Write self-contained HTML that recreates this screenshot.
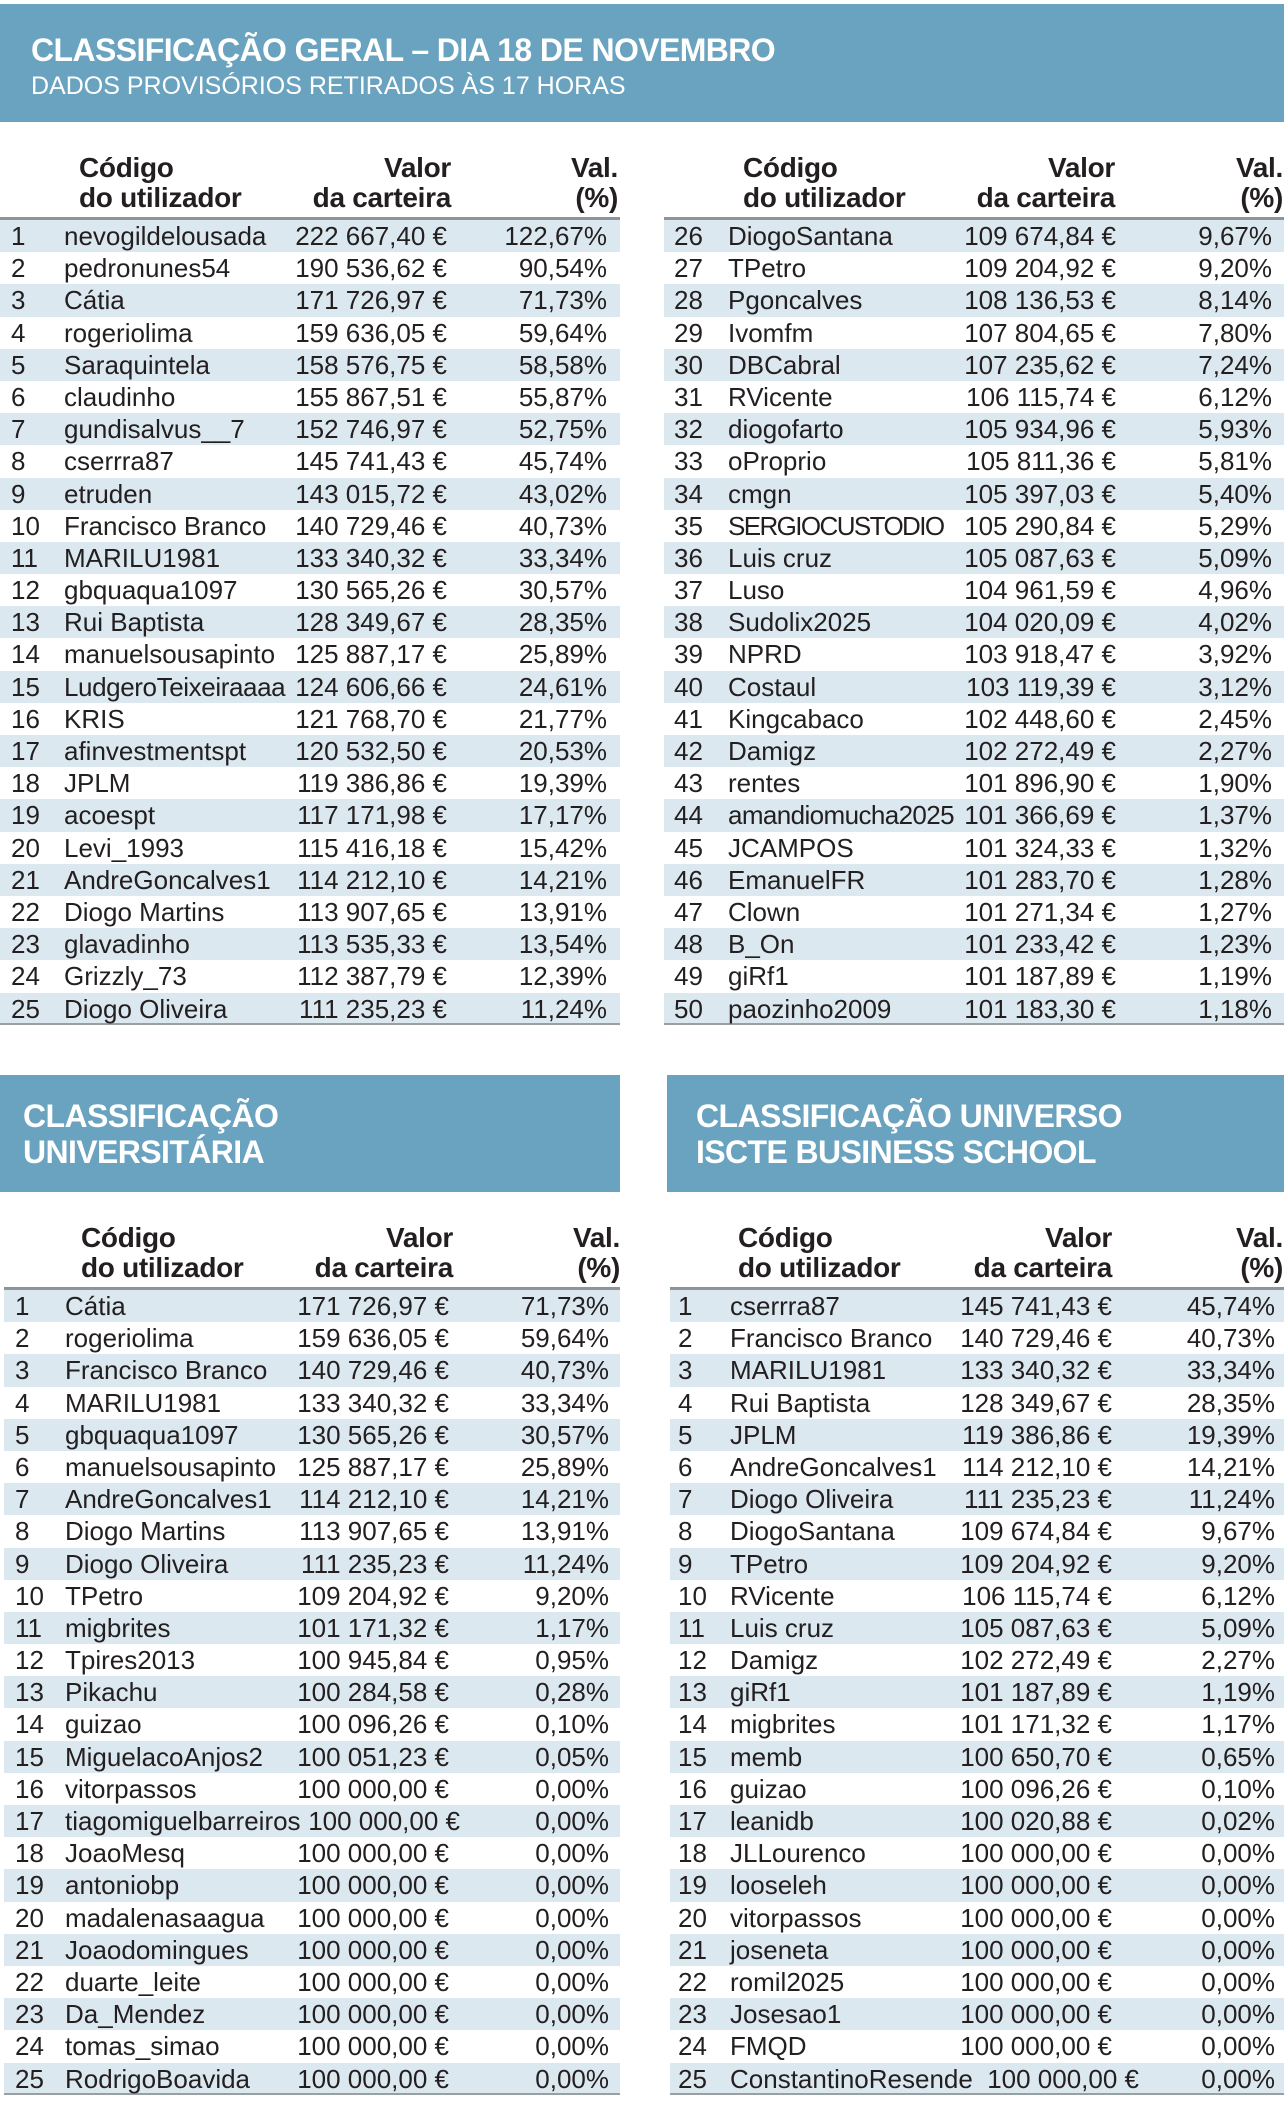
<!DOCTYPE html>
<html><head><meta charset="utf-8">
<style>
*{margin:0;padding:0;box-sizing:border-box}
body{width:1284px;height:2126px;background:#fff;position:relative;overflow:hidden;font-family:"Liberation Sans Narrow","Liberation Sans",sans-serif;color:#231f20}
.band{position:absolute;background:#6aa3bf;color:#fff}
.t{position:absolute;font-weight:bold;font-size:32px;line-height:36px;white-space:nowrap;letter-spacing:-0.6px}
.s{position:absolute;font-size:25px;white-space:nowrap}
.tb{position:absolute}
.hd{position:relative;height:70px;font-weight:bold;font-size:28px;line-height:30px;border-bottom:3px solid #8e9497}
.hd span{position:absolute;top:3px;white-space:nowrap;letter-spacing:-0.3px}
.r{position:relative;height:32.2px;font-size:26px;line-height:32px;white-space:nowrap}
.r:nth-child(even){background:#dce8f0}
.r span{position:absolute;top:0}
.tb .last{border-bottom:2px solid #9a9fa2}
.sq{letter-spacing:-1.6px}
</style></head><body>

<div class="band" style="left:0;top:4px;width:1284px;height:118px">
<div class="t" style="left:31px;top:28px">CLASSIFICAÇÃO GERAL – DIA 18 DE NOVEMBRO</div>
<div class="s" style="left:31px;top:68px">DADOS PROVISÓRIOS RETIRADOS ÀS 17 HORAS</div>
</div>

<style>
#A .n{left:11px}#A .u{left:64px}#A .v{right:173px}#A .p{right:13px}
#B .n{left:10px}#B .u{left:64px}#B .v{right:168px}#B .p{right:12px}
#C .n{left:11px}#C .u{left:61px}#C .v{right:171px}#C .p{right:11px}
#D .n{left:8px}#D .u{left:60px}#D .v{right:172px}#D .p{right:9px}
</style>

<div class="tb" id="A" style="left:0;top:150px;width:620px">
<div class="hd"><span style="left:79px">Código<br>do utilizador</span><span style="right:169px;text-align:right">Valor<br>da carteira</span><span style="right:2px;text-align:right">Val.<br>(%)</span></div>
<div class="r"><span class="n">1</span><span class="u">nevogildelousada</span><span class="v">222 667,40 €</span><span class="p">122,67%</span></div>
<div class="r"><span class="n">2</span><span class="u">pedronunes54</span><span class="v">190 536,62 €</span><span class="p">90,54%</span></div>
<div class="r"><span class="n">3</span><span class="u">Cátia</span><span class="v">171 726,97 €</span><span class="p">71,73%</span></div>
<div class="r"><span class="n">4</span><span class="u">rogeriolima</span><span class="v">159 636,05 €</span><span class="p">59,64%</span></div>
<div class="r"><span class="n">5</span><span class="u">Saraquintela</span><span class="v">158 576,75 €</span><span class="p">58,58%</span></div>
<div class="r"><span class="n">6</span><span class="u">claudinho</span><span class="v">155 867,51 €</span><span class="p">55,87%</span></div>
<div class="r"><span class="n">7</span><span class="u">gundisalvus__7</span><span class="v">152 746,97 €</span><span class="p">52,75%</span></div>
<div class="r"><span class="n">8</span><span class="u">cserrra87</span><span class="v">145 741,43 €</span><span class="p">45,74%</span></div>
<div class="r"><span class="n">9</span><span class="u">etruden</span><span class="v">143 015,72 €</span><span class="p">43,02%</span></div>
<div class="r"><span class="n">10</span><span class="u">Francisco Branco</span><span class="v">140 729,46 €</span><span class="p">40,73%</span></div>
<div class="r"><span class="n">11</span><span class="u">MARILU1981</span><span class="v">133 340,32 €</span><span class="p">33,34%</span></div>
<div class="r"><span class="n">12</span><span class="u">gbquaqua1097</span><span class="v">130 565,26 €</span><span class="p">30,57%</span></div>
<div class="r"><span class="n">13</span><span class="u">Rui Baptista</span><span class="v">128 349,67 €</span><span class="p">28,35%</span></div>
<div class="r"><span class="n">14</span><span class="u">manuelsousapinto</span><span class="v">125 887,17 €</span><span class="p">25,89%</span></div>
<div class="r"><span class="n">15</span><span class="u" style="letter-spacing:-0.4px">LudgeroTeixeiraaaa</span><span class="v">124 606,66 €</span><span class="p">24,61%</span></div>
<div class="r"><span class="n">16</span><span class="u">KRIS</span><span class="v">121 768,70 €</span><span class="p">21,77%</span></div>
<div class="r"><span class="n">17</span><span class="u">afinvestmentspt</span><span class="v">120 532,50 €</span><span class="p">20,53%</span></div>
<div class="r"><span class="n">18</span><span class="u">JPLM</span><span class="v">119 386,86 €</span><span class="p">19,39%</span></div>
<div class="r"><span class="n">19</span><span class="u">acoespt</span><span class="v">117 171,98 €</span><span class="p">17,17%</span></div>
<div class="r"><span class="n">20</span><span class="u">Levi_1993</span><span class="v">115 416,18 €</span><span class="p">15,42%</span></div>
<div class="r"><span class="n">21</span><span class="u">AndreGoncalves1</span><span class="v">114 212,10 €</span><span class="p">14,21%</span></div>
<div class="r"><span class="n">22</span><span class="u">Diogo Martins</span><span class="v">113 907,65 €</span><span class="p">13,91%</span></div>
<div class="r"><span class="n">23</span><span class="u">glavadinho</span><span class="v">113 535,33 €</span><span class="p">13,54%</span></div>
<div class="r"><span class="n">24</span><span class="u">Grizzly_73</span><span class="v">112 387,79 €</span><span class="p">12,39%</span></div>
<div class="r last"><span class="n">25</span><span class="u">Diogo Oliveira</span><span class="v">111 235,23 €</span><span class="p">11,24%</span></div>
</div>

<div class="tb" id="B" style="left:664px;top:150px;width:620px">
<div class="hd"><span style="left:79px">Código<br>do utilizador</span><span style="right:169px;text-align:right">Valor<br>da carteira</span><span style="right:1px;text-align:right">Val.<br>(%)</span></div>
<div class="r"><span class="n">26</span><span class="u">DiogoSantana</span><span class="v">109 674,84 €</span><span class="p">9,67%</span></div>
<div class="r"><span class="n">27</span><span class="u">TPetro</span><span class="v">109 204,92 €</span><span class="p">9,20%</span></div>
<div class="r"><span class="n">28</span><span class="u">Pgoncalves</span><span class="v">108 136,53 €</span><span class="p">8,14%</span></div>
<div class="r"><span class="n">29</span><span class="u">Ivomfm</span><span class="v">107 804,65 €</span><span class="p">7,80%</span></div>
<div class="r"><span class="n">30</span><span class="u">DBCabral</span><span class="v">107 235,62 €</span><span class="p">7,24%</span></div>
<div class="r"><span class="n">31</span><span class="u">RVicente</span><span class="v">106 115,74 €</span><span class="p">6,12%</span></div>
<div class="r"><span class="n">32</span><span class="u">diogofarto</span><span class="v">105 934,96 €</span><span class="p">5,93%</span></div>
<div class="r"><span class="n">33</span><span class="u">oProprio</span><span class="v">105 811,36 €</span><span class="p">5,81%</span></div>
<div class="r"><span class="n">34</span><span class="u">cmgn</span><span class="v">105 397,03 €</span><span class="p">5,40%</span></div>
<div class="r"><span class="n">35</span><span class="u sq">SERGIOCUSTODIO</span><span class="v">105 290,84 €</span><span class="p">5,29%</span></div>
<div class="r"><span class="n">36</span><span class="u">Luis cruz</span><span class="v">105 087,63 €</span><span class="p">5,09%</span></div>
<div class="r"><span class="n">37</span><span class="u">Luso</span><span class="v">104 961,59 €</span><span class="p">4,96%</span></div>
<div class="r"><span class="n">38</span><span class="u">Sudolix2025</span><span class="v">104 020,09 €</span><span class="p">4,02%</span></div>
<div class="r"><span class="n">39</span><span class="u">NPRD</span><span class="v">103 918,47 €</span><span class="p">3,92%</span></div>
<div class="r"><span class="n">40</span><span class="u">Costaul</span><span class="v">103 119,39 €</span><span class="p">3,12%</span></div>
<div class="r"><span class="n">41</span><span class="u">Kingcabaco</span><span class="v">102 448,60 €</span><span class="p">2,45%</span></div>
<div class="r"><span class="n">42</span><span class="u">Damigz</span><span class="v">102 272,49 €</span><span class="p">2,27%</span></div>
<div class="r"><span class="n">43</span><span class="u">rentes</span><span class="v">101 896,90 €</span><span class="p">1,90%</span></div>
<div class="r"><span class="n">44</span><span class="u" style="letter-spacing:-0.6px">amandiomucha2025</span><span class="v">101 366,69 €</span><span class="p">1,37%</span></div>
<div class="r"><span class="n">45</span><span class="u">JCAMPOS</span><span class="v">101 324,33 €</span><span class="p">1,32%</span></div>
<div class="r"><span class="n">46</span><span class="u">EmanuelFR</span><span class="v">101 283,70 €</span><span class="p">1,28%</span></div>
<div class="r"><span class="n">47</span><span class="u">Clown</span><span class="v">101 271,34 €</span><span class="p">1,27%</span></div>
<div class="r"><span class="n">48</span><span class="u">B_On</span><span class="v">101 233,42 €</span><span class="p">1,23%</span></div>
<div class="r"><span class="n">49</span><span class="u">giRf1</span><span class="v">101 187,89 €</span><span class="p">1,19%</span></div>
<div class="r last"><span class="n">50</span><span class="u">paozinho2009</span><span class="v">101 183,30 €</span><span class="p">1,18%</span></div>
</div>

<div class="band" style="left:0;top:1075px;width:620px;height:117px">
<div class="t" style="left:23px;top:23px">CLASSIFICAÇÃO<br>UNIVERSITÁRIA</div>
</div>
<div class="band" style="left:667px;top:1075px;width:617px;height:117px">
<div class="t" style="left:29px;top:23px">CLASSIFICAÇÃO UNIVERSO<br>ISCTE BUSINESS SCHOOL</div>
</div>

<div class="tb" id="C" style="left:4px;top:1220px;width:616px">
<div class="hd"><span style="left:77px">Código<br>do utilizador</span><span style="right:167px;text-align:right">Valor<br>da carteira</span><span style="right:0;text-align:right">Val.<br>(%)</span></div>
<div class="r"><span class="n">1</span><span class="u">Cátia</span><span class="v">171 726,97 €</span><span class="p">71,73%</span></div>
<div class="r"><span class="n">2</span><span class="u">rogeriolima</span><span class="v">159 636,05 €</span><span class="p">59,64%</span></div>
<div class="r"><span class="n">3</span><span class="u">Francisco Branco</span><span class="v">140 729,46 €</span><span class="p">40,73%</span></div>
<div class="r"><span class="n">4</span><span class="u">MARILU1981</span><span class="v">133 340,32 €</span><span class="p">33,34%</span></div>
<div class="r"><span class="n">5</span><span class="u">gbquaqua1097</span><span class="v">130 565,26 €</span><span class="p">30,57%</span></div>
<div class="r"><span class="n">6</span><span class="u">manuelsousapinto</span><span class="v">125 887,17 €</span><span class="p">25,89%</span></div>
<div class="r"><span class="n">7</span><span class="u">AndreGoncalves1</span><span class="v">114 212,10 €</span><span class="p">14,21%</span></div>
<div class="r"><span class="n">8</span><span class="u">Diogo Martins</span><span class="v">113 907,65 €</span><span class="p">13,91%</span></div>
<div class="r"><span class="n">9</span><span class="u">Diogo Oliveira</span><span class="v">111 235,23 €</span><span class="p">11,24%</span></div>
<div class="r"><span class="n">10</span><span class="u">TPetro</span><span class="v">109 204,92 €</span><span class="p">9,20%</span></div>
<div class="r"><span class="n">11</span><span class="u">migbrites</span><span class="v">101 171,32 €</span><span class="p">1,17%</span></div>
<div class="r"><span class="n">12</span><span class="u">Tpires2013</span><span class="v">100 945,84 €</span><span class="p">0,95%</span></div>
<div class="r"><span class="n">13</span><span class="u">Pikachu</span><span class="v">100 284,58 €</span><span class="p">0,28%</span></div>
<div class="r"><span class="n">14</span><span class="u">guizao</span><span class="v">100 096,26 €</span><span class="p">0,10%</span></div>
<div class="r"><span class="n">15</span><span class="u">MiguelacoAnjos2</span><span class="v">100 051,23 €</span><span class="p">0,05%</span></div>
<div class="r"><span class="n">16</span><span class="u">vitorpassos</span><span class="v">100 000,00 €</span><span class="p">0,00%</span></div>
<div class="r"><span class="n">17</span><span class="u">tiagomiguelbarreiros</span><span class="v" style="right:160px">100 000,00 €</span><span class="p">0,00%</span></div>
<div class="r"><span class="n">18</span><span class="u">JoaoMesq</span><span class="v">100 000,00 €</span><span class="p">0,00%</span></div>
<div class="r"><span class="n">19</span><span class="u">antoniobp</span><span class="v">100 000,00 €</span><span class="p">0,00%</span></div>
<div class="r"><span class="n">20</span><span class="u">madalenasaagua</span><span class="v">100 000,00 €</span><span class="p">0,00%</span></div>
<div class="r"><span class="n">21</span><span class="u">Joaodomingues</span><span class="v">100 000,00 €</span><span class="p">0,00%</span></div>
<div class="r"><span class="n">22</span><span class="u">duarte_leite</span><span class="v">100 000,00 €</span><span class="p">0,00%</span></div>
<div class="r"><span class="n">23</span><span class="u">Da_Mendez</span><span class="v">100 000,00 €</span><span class="p">0,00%</span></div>
<div class="r"><span class="n">24</span><span class="u">tomas_simao</span><span class="v">100 000,00 €</span><span class="p">0,00%</span></div>
<div class="r last"><span class="n">25</span><span class="u">RodrigoBoavida</span><span class="v">100 000,00 €</span><span class="p">0,00%</span></div>
</div>

<div class="tb" id="D" style="left:670px;top:1220px;width:614px">
<div class="hd"><span style="left:68px">Código<br>do utilizador</span><span style="right:172px;text-align:right">Valor<br>da carteira</span><span style="right:1px;text-align:right">Val.<br>(%)</span></div>
<div class="r"><span class="n">1</span><span class="u">cserrra87</span><span class="v">145 741,43 €</span><span class="p">45,74%</span></div>
<div class="r"><span class="n">2</span><span class="u">Francisco Branco</span><span class="v">140 729,46 €</span><span class="p">40,73%</span></div>
<div class="r"><span class="n">3</span><span class="u">MARILU1981</span><span class="v">133 340,32 €</span><span class="p">33,34%</span></div>
<div class="r"><span class="n">4</span><span class="u">Rui Baptista</span><span class="v">128 349,67 €</span><span class="p">28,35%</span></div>
<div class="r"><span class="n">5</span><span class="u">JPLM</span><span class="v">119 386,86 €</span><span class="p">19,39%</span></div>
<div class="r"><span class="n">6</span><span class="u">AndreGoncalves1</span><span class="v">114 212,10 €</span><span class="p">14,21%</span></div>
<div class="r"><span class="n">7</span><span class="u">Diogo Oliveira</span><span class="v">111 235,23 €</span><span class="p">11,24%</span></div>
<div class="r"><span class="n">8</span><span class="u">DiogoSantana</span><span class="v">109 674,84 €</span><span class="p">9,67%</span></div>
<div class="r"><span class="n">9</span><span class="u">TPetro</span><span class="v">109 204,92 €</span><span class="p">9,20%</span></div>
<div class="r"><span class="n">10</span><span class="u">RVicente</span><span class="v">106 115,74 €</span><span class="p">6,12%</span></div>
<div class="r"><span class="n">11</span><span class="u">Luis cruz</span><span class="v">105 087,63 €</span><span class="p">5,09%</span></div>
<div class="r"><span class="n">12</span><span class="u">Damigz</span><span class="v">102 272,49 €</span><span class="p">2,27%</span></div>
<div class="r"><span class="n">13</span><span class="u">giRf1</span><span class="v">101 187,89 €</span><span class="p">1,19%</span></div>
<div class="r"><span class="n">14</span><span class="u">migbrites</span><span class="v">101 171,32 €</span><span class="p">1,17%</span></div>
<div class="r"><span class="n">15</span><span class="u">memb</span><span class="v">100 650,70 €</span><span class="p">0,65%</span></div>
<div class="r"><span class="n">16</span><span class="u">guizao</span><span class="v">100 096,26 €</span><span class="p">0,10%</span></div>
<div class="r"><span class="n">17</span><span class="u">leanidb</span><span class="v">100 020,88 €</span><span class="p">0,02%</span></div>
<div class="r"><span class="n">18</span><span class="u">JLLourenco</span><span class="v">100 000,00 €</span><span class="p">0,00%</span></div>
<div class="r"><span class="n">19</span><span class="u">looseleh</span><span class="v">100 000,00 €</span><span class="p">0,00%</span></div>
<div class="r"><span class="n">20</span><span class="u">vitorpassos</span><span class="v">100 000,00 €</span><span class="p">0,00%</span></div>
<div class="r"><span class="n">21</span><span class="u">joseneta</span><span class="v">100 000,00 €</span><span class="p">0,00%</span></div>
<div class="r"><span class="n">22</span><span class="u">romil2025</span><span class="v">100 000,00 €</span><span class="p">0,00%</span></div>
<div class="r"><span class="n">23</span><span class="u">Josesao1</span><span class="v">100 000,00 €</span><span class="p">0,00%</span></div>
<div class="r"><span class="n">24</span><span class="u">FMQD</span><span class="v">100 000,00 €</span><span class="p">0,00%</span></div>
<div class="r last"><span class="n">25</span><span class="u">ConstantinoResende</span><span class="v" style="right:145px">100 000,00 €</span><span class="p">0,00%</span></div>
</div>

</body></html>
